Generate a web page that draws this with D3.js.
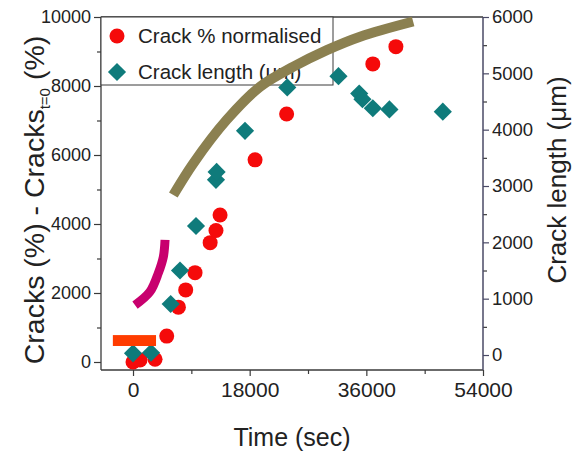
<!DOCTYPE html>
<html>
<head>
<meta charset="utf-8">
<script src="https://cdn.jsdelivr.net/npm/d3@7"></script>
<style>
  body { margin: 0; background: #fff; }
  svg { font-family: "Liberation Sans", Arial, sans-serif; }
</style>
</head>
<body>
<svg id="chart" width="574" height="454"></svg>
<script>
// crack % normalised (left axis)
let crackTime = [0, 1080, 3400, 5200, 7000, 8130, 9570, 11900, 12800, 13430, 18830, 23700, 37000, 40560];
let crackPct = [0, 60, 80, 750, 1590, 2090, 2590, 3460, 3810, 4260, 5860, 7190, 8640, 9140];

// crack length in um (right axis)
let lenTime = [0, 2780, 5810, 7250, 9720, 12800, 12900, 17280, 23800, 31700, 34900, 35400, 37000, 39560, 47800];
let lenUm = [30, 40, 905, 1500, 2290, 3110, 3250, 3980, 4750, 4950, 4640, 4540, 4380, 4360, 4320];

// hand drawn annotation strokes, in data units (time, left axis)
let oliveT = [6220, 9310, 14460, 19600, 24750, 29900, 35040, 43220];
let oliveV = [4840, 5760, 7020, 7980, 8560, 9040, 9430, 9870];
let pinkT = [310, 2620, 3910, 4680, 4940];
let pinkV = [1650, 2040, 2580, 3050, 3540];
let barT = [-3110, 3550];
let barV = [464, 780];

let xTicks = [0, 18000, 36000, 54000];
let xMinor = [9000, 27000, 45000];
let yLTicks = [0, 2000, 4000, 6000, 8000, 10000];
let yLMinor = [1000, 3000, 5000, 7000, 9000];
let yRTicks = [0, 1000, 2000, 3000, 4000, 5000, 6000];
let yRMinor = [500, 1500, 2500, 3500, 4500, 5500];

let legendLabels = ["Crack % normalised", "Crack length (\u03bcm)"];

const svg = d3.select("#chart");
const L = 101, R = 483, T = 17, B = 370;

let x = d3.scaleLinear().domain([-4940, 54000]).range([L, R]);
let yL = d3.scaleLinear().domain([-232, 10000]).range([B, T]);
let yR = d3.scaleLinear().domain([-266, 6000]).range([B, T]);

const frameCol = "#3a3a3a";
const rightCol = "#4a4a66";

// axes
let xAxis = svg.append("g").attr("transform", `translate(0,${B})`)
    .call(d3.axisBottom(x).tickValues(xTicks).tickSize(6).tickPadding(6).tickFormat(d3.format("d")));
svg.append("g").attr("transform", `translate(0,${B})`)
    .call(d3.axisBottom(x).tickValues(xMinor).tickSize(4).tickFormat(""));
let yAxisL = svg.append("g").attr("transform", `translate(${L},0)`)
    .call(d3.axisLeft(yL).tickValues(yLTicks).tickSize(7).tickPadding(3).tickFormat(d3.format("d")));
svg.append("g").attr("transform", `translate(${L},0)`)
    .call(d3.axisLeft(yL).tickValues(yLMinor).tickSize(4).tickFormat(""));
let yAxisR = svg.append("g").attr("transform", `translate(${R},0)`)
    .call(d3.axisRight(yR).tickValues(yRTicks).tickSize(6).tickPadding(3).tickFormat(d3.format("d")));
svg.append("g").attr("transform", `translate(${R},0)`)
    .call(d3.axisRight(yR).tickValues(yRMinor).tickSize(4).tickFormat(""));

svg.selectAll(".domain").remove();
svg.selectAll(".tick line").attr("stroke", frameCol).attr("stroke-width", 1.2);
xAxis.selectAll("text").attr("font-size", 21).attr("fill", "#222");
yAxisL.selectAll("text").attr("font-size", 18).attr("fill", "#222");
yAxisR.selectAll("text").attr("font-size", 18.5).attr("fill", "#222");
yAxisR.selectAll(".tick line").attr("stroke", rightCol);

// frame
svg.append("line").attr("x1", L).attr("x2", R).attr("y1", T).attr("y2", T).attr("stroke", frameCol).attr("stroke-width", 1.3);
svg.append("line").attr("x1", L).attr("x2", R).attr("y1", B).attr("y2", B).attr("stroke", frameCol).attr("stroke-width", 1.3);
svg.append("line").attr("x1", L).attr("x2", L).attr("y1", T).attr("y2", B).attr("stroke", frameCol).attr("stroke-width", 1.3);
svg.append("line").attr("x1", R).attr("x2", R).attr("y1", T).attr("y2", B).attr("stroke", rightCol).attr("stroke-width", 1.5);

// legend box
svg.append("rect").attr("x", L).attr("y", T).attr("width", 232).attr("height", 68)
    .attr("fill", "#fff").attr("stroke", frameCol).attr("stroke-width", 1);

// points
svg.append("g").selectAll("circle")
    .data(crackTime.map((t, i) => [t, crackPct[i]]))
    .join("circle")
    .attr("cx", d => x(d[0]))
    .attr("cy", d => yL(d[1]))
    .attr("r", 7.5)
    .attr("fill", "#f50a0a");

let diamond = d3.symbol(d3.symbolSquare, 165);
svg.append("g").selectAll("path")
    .data(lenTime.map((t, i) => [t, lenUm[i]]))
    .join("path")
    .attr("d", diamond)
    .attr("transform", d => `translate(${x(d[0])},${yR(d[1])}) rotate(45)`)
    .attr("fill", "#0f7b7b");

// legend entries
let leg = svg.append("g");
leg.append("circle").attr("cx", 117).attr("cy", 36).attr("r", 7.5).attr("fill", "#f50a0a");
leg.append("path").attr("d", diamond).attr("transform", "translate(117,72) rotate(45)").attr("fill", "#0f7b7b");
leg.selectAll("text").data(legendLabels).join("text")
    .attr("x", 138).attr("y", (d, i) => 43 + i * 36)
    .attr("font-size", 20.5).attr("fill", "#222")
    .text(d => d);

// annotation strokes
svg.append("rect")
    .attr("x", x(barT[0])).attr("y", yL(barV[1]))
    .attr("width", x(barT[1]) - x(barT[0])).attr("height", yL(barV[0]) - yL(barV[1]))
    .attr("fill", "#ff3c00");

let line = d3.line().curve(d3.curveCatmullRom);
svg.append("path")
    .attr("d", line(pinkT.map((t, i) => [x(t), yL(pinkV[i])])))
    .attr("fill", "none").attr("stroke", "#c8006e").attr("stroke-width", 9);
svg.append("path")
    .attr("d", line(oliveT.map((t, i) => [x(t), yL(oliveV[i])])))
    .attr("fill", "none").attr("stroke", "#8b8050").attr("stroke-width", 10);

// axis titles
svg.append("text").attr("x", 292).attr("y", 446).attr("text-anchor", "middle")
    .attr("font-size", 25).attr("fill", "#222").text("Time (sec)");

let ylab = svg.append("text")
    .attr("transform", "translate(44,200) rotate(-90)")
    .attr("text-anchor", "middle").attr("font-size", 28.5).attr("fill", "#222");
ylab.append("tspan").text("Cracks (%) - Cracks");
ylab.append("tspan").attr("font-size", 15).attr("dy", 6).text("t=0");
ylab.append("tspan").attr("dy", -6).text(" (%)");

svg.append("text")
    .attr("transform", "translate(566,180) rotate(-90)")
    .attr("text-anchor", "middle").attr("font-size", 26).attr("fill", "#222")
    .text("Crack length (\u03bcm)");
</script>
</body>
</html>
